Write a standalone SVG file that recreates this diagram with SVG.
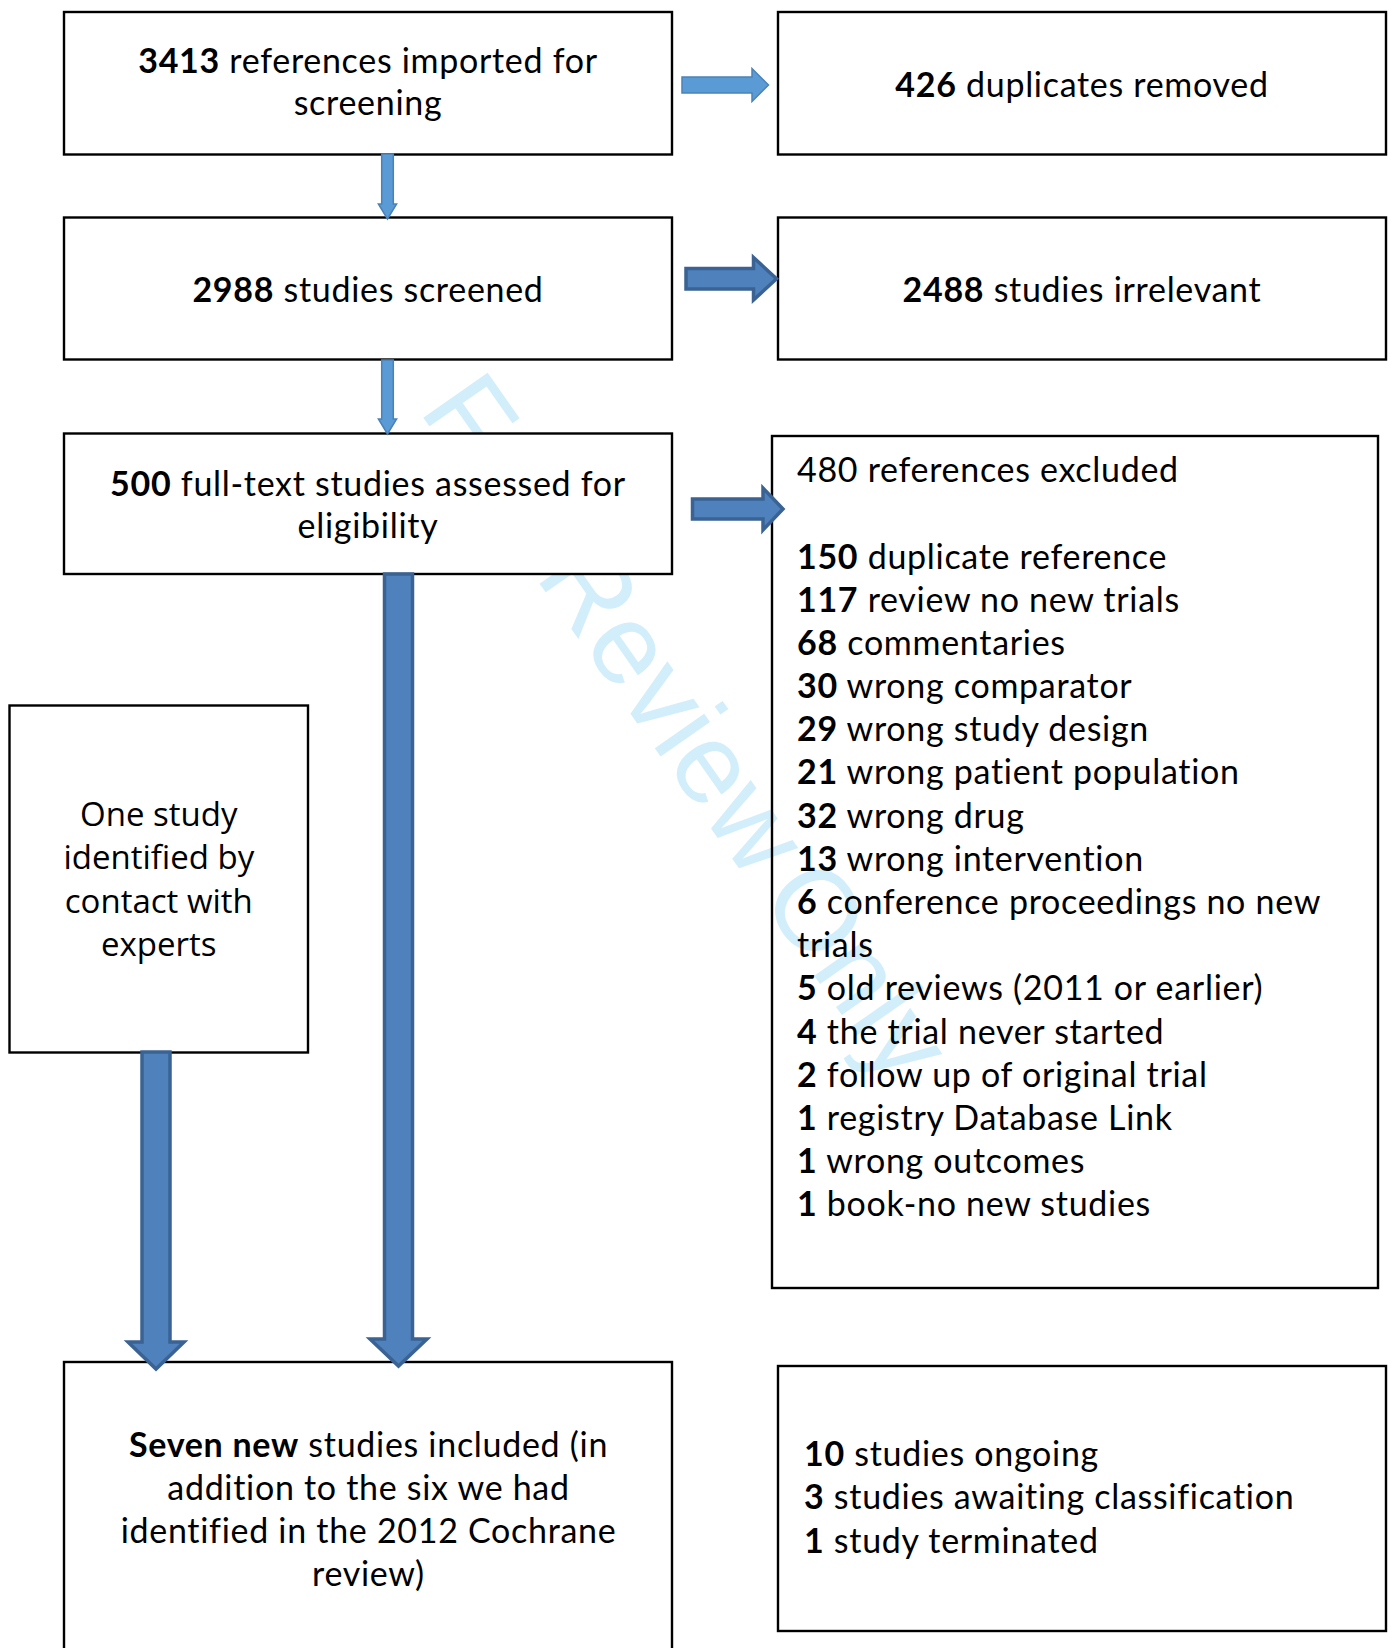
<svg xmlns="http://www.w3.org/2000/svg" width="1391" height="1648" viewBox="0 0 1391 1648">
<style>
.box{fill:#ffffff;stroke:#000000;stroke-width:2.4}
.open{fill:none;stroke:#000000;stroke-width:2.4}
.t{font-family:Lato,"Open Sans","Liberation Sans",sans-serif;font-size:34px;letter-spacing:0.7px;fill:#000000}
.c{text-anchor:middle}
.o{font-family:"Open Sans",Lato,"Liberation Sans",sans-serif;font-size:33px;fill:#000000;text-anchor:middle}
.b{font-weight:700}
.light{fill:#5B9BD5;stroke:#4A82B8;stroke-width:1.5}
.dark{fill:#4F81BD;stroke:#3A6394;stroke-width:3.5;stroke-linejoin:miter}
.wm{font-family:"Liberation Sans",Arial,sans-serif;font-size:114px;fill:#d2eefb}
</style>
<rect width="1391" height="1648" fill="#ffffff"/>
<text class="wm" transform="translate(418,410) rotate(55)">For Review <tspan dx="-14">Only</tspan></text>

<g id="n1"><rect class="box" x="64" y="12" width="608" height="142.5"/>
<text class="t c" x="368" y="72.5"><tspan class="b">3413</tspan> references imported for</text>
<text class="t c" x="368" y="114.5">screening</text></g>

<g id="n2"><rect class="box" x="778" y="12" width="608" height="142.5"/>
<text class="t c" x="1082" y="96.5"><tspan class="b">426</tspan> duplicates removed</text></g>

<g id="n3"><rect class="box" x="64" y="217.5" width="608" height="142"/>
<text class="t c" x="368" y="301.5"><tspan class="b">2988</tspan> studies screened</text></g>

<g id="n4"><rect class="box" x="778" y="217.5" width="608" height="142"/>
<text class="t c" x="1082" y="301.5"><tspan class="b">2488</tspan> studies irrelevant</text></g>

<g id="n5"><rect class="box" x="64" y="433.5" width="608" height="140.5"/>
<text class="t c" x="368" y="495.5"><tspan class="b">500</tspan> full-text studies assessed for</text>
<text class="t c" x="368" y="537.5">eligibility</text></g>

<g id="n6"><rect class="open" x="772" y="436" width="606" height="852"/>
<text class="t" x="797" y="482">480 references excluded</text>
<text class="t" x="797" y="568.5"><tspan class="b">150</tspan> duplicate reference</text>
<text class="t" x="797" y="611.7"><tspan class="b">117</tspan> review no new trials</text>
<text class="t" x="797" y="654.9"><tspan class="b">68</tspan> commentaries</text>
<text class="t" x="797" y="698"><tspan class="b">30</tspan> wrong comparator</text>
<text class="t" x="797" y="741.2"><tspan class="b">29</tspan> wrong study design</text>
<text class="t" x="797" y="784.4"><tspan class="b">21</tspan> wrong patient population</text>
<text class="t" x="797" y="827.6"><tspan class="b">32</tspan> wrong drug</text>
<text class="t" x="797" y="870.8"><tspan class="b">13</tspan> wrong intervention</text>
<text class="t" x="797" y="913.9"><tspan class="b">6</tspan> conference proceedings no new</text>
<text class="t" x="797" y="957.1">trials</text>
<text class="t" x="797" y="1000.3"><tspan class="b">5</tspan> old reviews (2011 or earlier)</text>
<text class="t" x="797" y="1043.5"><tspan class="b">4</tspan> the trial never started</text>
<text class="t" x="797" y="1086.7"><tspan class="b">2</tspan> follow up of original trial</text>
<text class="t" x="797" y="1129.8"><tspan class="b">1</tspan> registry Database Link</text>
<text class="t" x="797" y="1173"><tspan class="b">1</tspan> wrong outcomes</text>
<text class="t" x="797" y="1216.2"><tspan class="b">1</tspan> book-no new studies</text></g>

<g id="n7"><rect class="box" x="9.5" y="705.5" width="298.5" height="347"/>
<text class="o" x="158.8" y="826">One study</text>
<text class="o" x="158.8" y="869.3">identified by</text>
<text class="o" x="158.8" y="912.6">contact with</text>
<text class="o" x="158.8" y="956">experts</text></g>

<g id="n8"><rect class="box" x="64" y="1362" width="608" height="300"/>
<text class="t c" x="368.5" y="1457"><tspan class="b">Seven new</tspan> studies included (in</text>
<text class="t c" x="368.5" y="1500">addition to the six we had</text>
<text class="t c" x="368.5" y="1543">identified in the 2012 Cochrane</text>
<text class="t c" x="368.5" y="1586">review)</text></g>

<g id="n9"><rect class="box" x="778" y="1366" width="608" height="265"/>
<text class="t" x="804" y="1466"><tspan class="b">10</tspan> studies ongoing</text>
<text class="t" x="804" y="1509.3"><tspan class="b">3</tspan> studies awaiting classification</text>
<text class="t" x="804" y="1552.6"><tspan class="b">1</tspan> study terminated</text></g>

<g id="connectors">
<polygon class="light" points="682,77 752,77 752,68.5 768.5,85 752,101.5 752,93 682,93"/>
<polygon class="dark" points="686,268.5 753.5,268.5 753.5,257.5 776.5,278.7 753.5,300 753.5,289 686,289"/>
<polygon class="dark" points="692.5,499 763,499 763,488 783,509 763,530 763,519 692.5,519"/>
<polygon class="light" points="381.7,154 393.3,154 393.3,204 396.6,204 387.5,219 378.4,204 381.7,204"/>
<polygon class="light" points="381.7,360 393.3,360 393.3,419 396.6,419 387.5,434 378.4,419 381.7,419"/>
<polygon class="dark" points="384.5,574 412.5,574 412.5,1339 427,1339 398.5,1366 370,1339 384.5,1339"/>
<polygon class="dark" points="142,1052 170,1052 170,1342 184,1342 156,1369 128,1342 142,1342"/>
</g>
</svg>
